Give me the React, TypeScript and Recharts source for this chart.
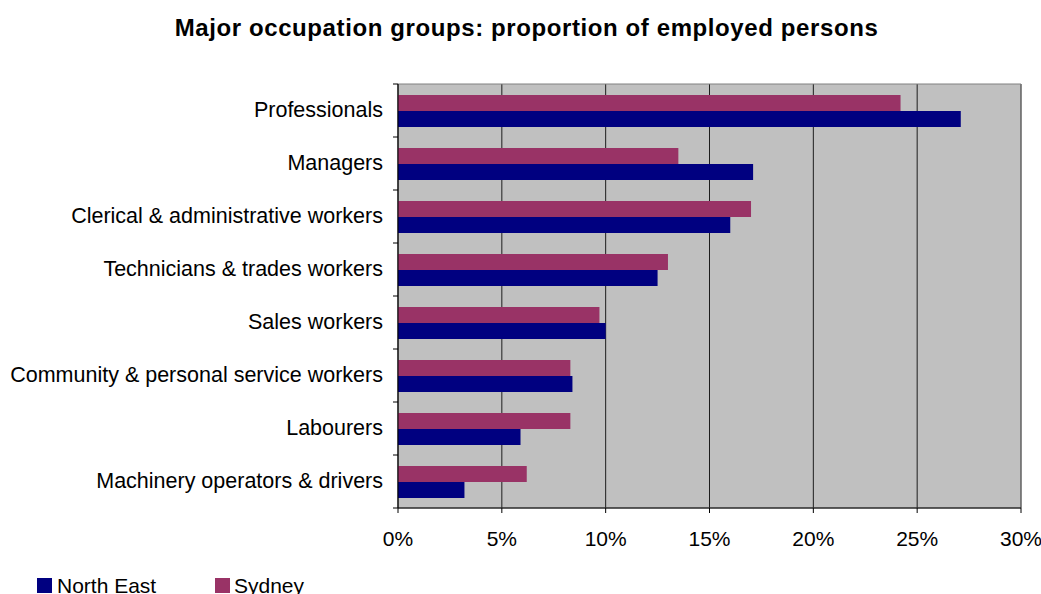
import React from "react";
import {
  BarChart, Bar, XAxis, YAxis, CartesianGrid, ReferenceArea,
} from "recharts";

const categories = [
  "Professionals",
  "Managers",
  "Clerical & administrative workers",
  "Technicians & trades workers",
  "Sales workers",
  "Community & personal service workers",
  "Labourers",
  "Machinery operators & drivers",
];
const northEast = [27.1, 17.1, 16.0, 12.5, 10.0, 8.4, 5.9, 3.2];
const sydney = [24.2, 13.5, 17.0, 13.0, 9.7, 8.3, 8.3, 6.2];
const xTicks = [0, 5, 10, 15, 20, 25, 30];

const data = categories.map((name, i) => ({
  name,
  northEast: northEast[i],
  sydney: sydney[i],
}));

const FONT = "'Liberation Sans', Arial, sans-serif";
const NAVY = "#000080";
const PLUM = "#993366";

const PLOT_TOP = 84;
const PLOT_BOTTOM = 508;
const HALF_BAND = (PLOT_BOTTOM - PLOT_TOP) / categories.length / 2;

function YTick(props: any) {
  const { x, y, payload, index } = props;
  const half = payload?.offset || HALF_BAND;
  const ax = x + 15;
  return (
    <g>
      <text
        x={x}
        y={y + 6}
        textAnchor="end"
        fontSize={21.5}
        fontFamily={FONT}
        fill="#000"
      >
        {payload.value}
      </text>
      {index === 0 && (
        <line x1={ax - 5} x2={ax} y1={y - half} y2={y - half} stroke="#000" />
      )}
      <line x1={ax - 5} x2={ax} y1={y + half} y2={y + half} stroke="#000" />
    </g>
  );
}

export default function App() {
  return (
    <div
      style={{
        position: "absolute",
        left: 0,
        top: 0,
        width: 1041,
        height: 594,
        background: "#fff",
        fontFamily: FONT,
        overflow: "hidden",
      }}
    >
      <div
        style={{
          position: "absolute",
          left: 0,
          width: 1053,
          top: 14,
          textAlign: "center",
          fontSize: 24,
          letterSpacing: 0.6,
          fontWeight: "bold",
          whiteSpace: "nowrap",
        }}
      >
        Major occupation groups: proportion of employed persons
      </div>

      <BarChart
        width={1041}
        height={594}
        data={data}
        layout="vertical"
        margin={{ top: PLOT_TOP, right: 20, bottom: 594 - PLOT_BOTTOM - 40, left: 0 }}
        barSize={16}
        barGap={0}
      >
        <CartesianGrid
          horizontal={false}
          vertical
          fill="#C0C0C0"
          fillOpacity={1}
          stroke="#000"
          strokeOpacity={0.85}
        />
        <ReferenceArea x1={0} x2={30} stroke="#808080" fill="none" ifOverflow="visible" />
        <XAxis
          type="number"
          domain={[0, 30]}
          ticks={xTicks}
          interval={0}
          height={40}
          tickFormatter={(v) => `${v}%`}
          tick={{ fontSize: 21, fill: "#000", fontFamily: FONT }}
          tickSize={5}
          tickMargin={18}
          tickLine={{ stroke: "#000" }}
          axisLine={{ stroke: "#000" }}
        />
        <YAxis
          type="category"
          dataKey="name"
          width={398}
          interval={0}
          tickSize={0}
          tickMargin={15}
          tick={<YTick />}
          axisLine={{ stroke: "#000" }}
        />
        <Bar dataKey="sydney" fill={PLUM} isAnimationActive={false} />
        <Bar dataKey="northEast" fill={NAVY} isAnimationActive={false} />
      </BarChart>

      <div style={{ position: "absolute", left: 37, top: 578, width: 15, height: 15, background: NAVY }} />
      <div style={{ position: "absolute", left: 57, top: 574, fontSize: 21, whiteSpace: "nowrap" }}>
        North East
      </div>
      <div style={{ position: "absolute", left: 215, top: 578, width: 15, height: 15, background: PLUM }} />
      <div style={{ position: "absolute", left: 234, top: 574, fontSize: 21, whiteSpace: "nowrap" }}>
        Sydney
      </div>
    </div>
  );
}
